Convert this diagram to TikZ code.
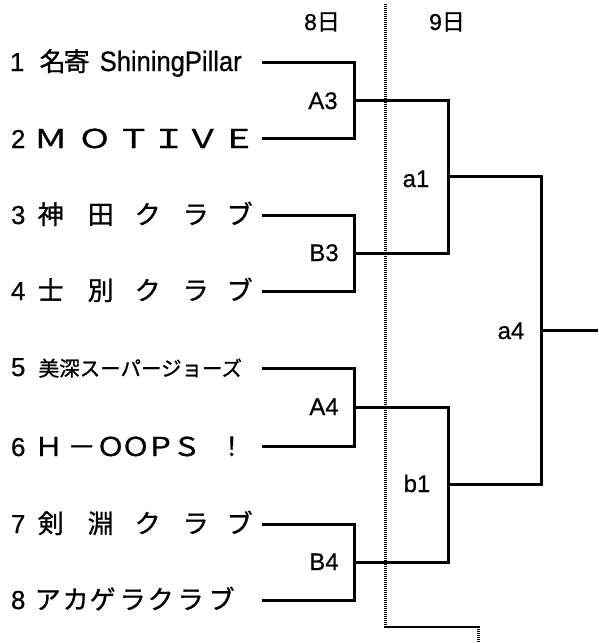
\documentclass[tikz,border=0pt]{standalone}
\usepackage{fontspec}
\usepackage{graphicx}
\setmainfont{Liberation Sans}
\newfontfamily\jp[FakeBold=1]{Noto Sans CJK JP}
\newfontfamily\lat[FakeBold=0.6]{Liberation Sans}
\newcommand\cc[2]{\rlap{\hspace*{#1pt}\makebox[0pt]{#2}}}
\newcommand\wa[1]{\scalebox{1.3}[1]{#1}}
\newcommand\wb[1]{\scalebox{1.1}[1]{#1}}
\begin{document}
\begin{tikzpicture}[x=1pt,y=-1pt,
  team/.style={anchor=base west,inner sep=0pt,font=\fontsize{26}{26}\selectfont\lat},
  lbl/.style={inner sep=0pt,anchor=base,font=\fontsize{24}{24}\selectfont\lat},
  dayl/.style={inner sep=0pt,anchor=base,font=\fontsize{23}{23}\selectfont\lat},
  br/.style={line width=3pt,line join=miter},
  dotline/.style={line width=2.6pt,dash pattern=on 1.1pt off 0.9pt}]
\useasboundingbox (0,0) rectangle (598,643);
% team names
\node[team] (t1) at (0,71) {\cc{16.5}{1}{\jp\cc{52}{名}\cc{76}{寄}}\rlap{\hspace*{99pt}\resizebox{142pt}{\height}{\fontsize{28}{28}\selectfont ShiningPillar}}};
\node[team] (t2) at (0,148) {\cc{17.5}{2}\jp\cc{50}{\wa{Ｍ}}\cc{94}{\wa{Ｏ}}\cc{133}{\wa{Ｔ}}\cc{168}{\wa{Ｉ}}\cc{202}{\wa{Ｖ}}\cc{238}{\wa{Ｅ}}};
\node[team] (t3) at (0,224) {\cc{17.5}{3}\jp\cc{50}{神}\cc{100}{田}\cc{147}{ク}\cc{195}{ラ}\cc{239}{ブ}};
\node[team] (t4) at (0,300) {\cc{17.5}{4}\jp\cc{50}{士}\cc{100}{別}\cc{147}{ク}\cc{195}{ラ}\cc{239}{ブ}};
\node[team] (t5) at (0,376) {\cc{17.5}{5}\rlap{\hspace*{38pt}\fontsize{20.5}{20.5}\selectfont\jp 美深スーパージョーズ}};
\node[team] (t6) at (0,456) {\cc{17.5}{6}\jp\cc{48}{\wb{Ｈ}}\cc{81}{\wb{－}}\cc{110}{\wb{Ｏ}}\cc{135}{\wb{Ｏ}}\cc{160}{\wb{Ｐ}}\cc{186}{\wb{Ｓ}}\cc{231}{！}};
\node[team] (t7) at (0,533) {\cc{17.5}{7}\jp\cc{50}{剣}\cc{100}{淵}\cc{147}{ク}\cc{195}{ラ}\cc{239}{ブ}};
\node[team] (t8) at (0,609) {\cc{17.5}{8}\jp\cc{47}{ア}\cc{75}{カ}\cc{102}{ゲ}\cc{132}{ラ}\cc{160}{ク}\cc{190}{ラ}\cc{221}{ブ}};
% day labels
\node[dayl] (d8) at (322,30) {8{\jp 日}};
\node[dayl] (d9) at (447,30) {9{\jp 日}};
% line starts
\coordinate (s1) at (262,62);
\coordinate (s2) at (262,138);
\coordinate (s3) at (262,215);
\coordinate (s4) at (262,291);
\coordinate (s5) at (262,368);
\coordinate (s6) at (262,446);
\coordinate (s7) at (262,524);
\coordinate (s8) at (262,600);
% match points
\coordinate (A3) at (354,100);
\coordinate (B3) at (354,253);
\coordinate (A4) at (354,407);
\coordinate (B4) at (354,562);
\coordinate (a1) at (448,176.5);
\coordinate (b1) at (448,484.5);
\coordinate (a4) at (541,330.5);
\coordinate (out) at (598,330.5);
% dotted divider
\coordinate (v0) at (385.5,4);
\coordinate (v1) at (385.5,627);
\coordinate (v2) at (478.5,627);
\coordinate (v3) at (478.5,643);
\draw[dotline] (v0) -- (v1) -- (v2) -- (v3);
% brackets
\draw[br] (s1) -| (A3) |- (s2);
\draw[br] (s3) -| (B3) |- (s4);
\draw[br] (s5) -| (A4) |- (s6);
\draw[br] (s7) -| (B4) |- (s8);
\draw[br] (A3) -| (a1) |- (B3);
\draw[br] (A4) -| (b1) |- (B4);
\draw[br] (a1) -| (a4) |- (b1);
\draw[br] (a4) -- (out);
% match labels
\node[lbl] (lA3) at (323,109) {A3};
\node[lbl] (lB3) at (324,261) {B3};
\node[lbl] (lA4) at (324,415) {A4};
\node[lbl] (lB4) at (324,570) {B4};
\node[lbl] (la1) at (416,187) {a1};
\node[lbl] (lb1) at (417,492) {b1};
\node[lbl] (la4) at (511,339) {a4};
\end{tikzpicture}
\end{document}
